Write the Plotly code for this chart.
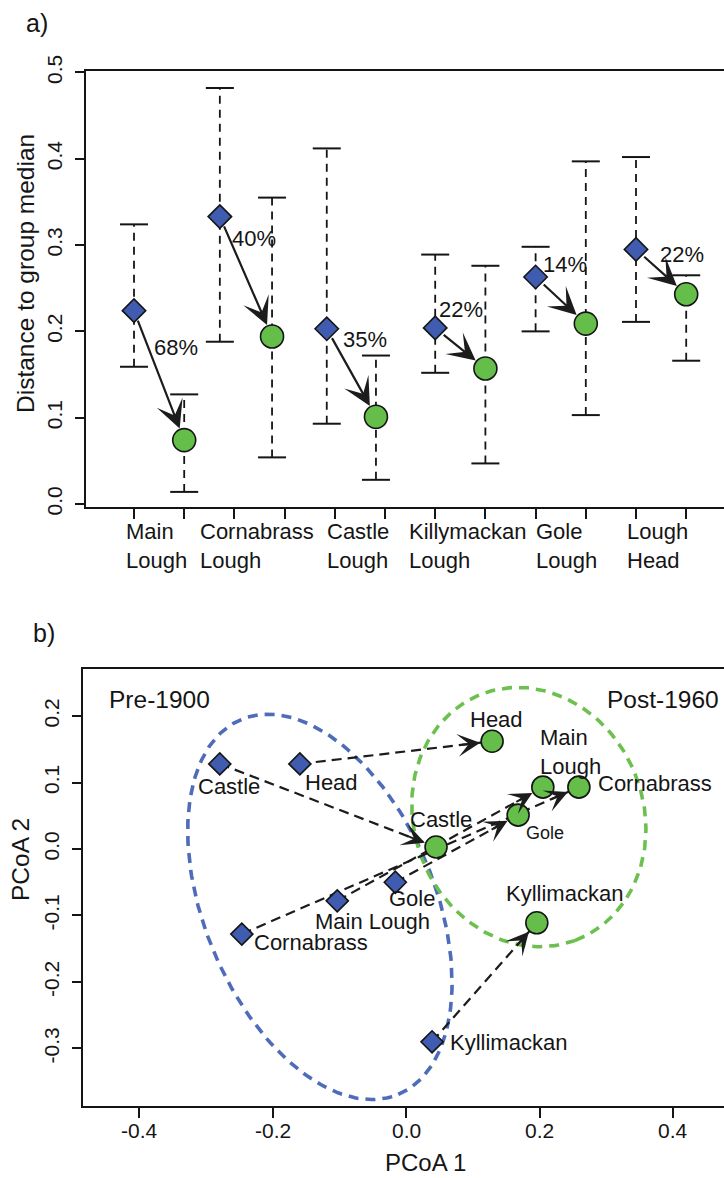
import numpy as np
import plotly.graph_objects as go

# ---------------- Panel a data ----------------
tick_labels_a = ["Main<br>Lough", "Cornabrass<br>Lough", "Castle<br>Lough",
                 "Killymackan<br>Lough", "Gole<br>Lough", "Lough<br>Head"]
pre_pos = [1, 2.71, 4.84, 7, 9, 11]
post_pos = [2, 3.75, 5.82, 8, 10, 12]
pre_median = [0.224, 0.333, 0.203, 0.204, 0.263, 0.295]
pre_upper = [0.324, 0.482, 0.412, 0.289, 0.298, 0.402]
pre_lower = [0.159, 0.188, 0.093, 0.152, 0.200, 0.211]
post_median = [0.074, 0.194, 0.101, 0.157, 0.209, 0.243]
post_upper = [0.127, 0.355, 0.172, 0.276, 0.397, 0.265]
post_lower = [0.014, 0.054, 0.028, 0.047, 0.103, 0.166]
pct_change = ["68%", "40%", "35%", "22%", "14%", "22%"]
yticks_a = [0.0, 0.1, 0.2, 0.3, 0.4, 0.5]
yticktext_a = ["0.0", "0.1", "0.2", "0.3", "0.4", "0.5"]

# ---------------- Panel b data ----------------
sites_b = ["Castle", "Head", "Main Lough", "Cornabrass", "Gole", "Kyllimackan"]
post_text_b = ["Castle", "Head", "Main<br>Lough", "Cornabrass", "Gole", "Kyllimackan"]
pre_x = [-0.279, -0.159, -0.103, -0.246, -0.016, 0.039]
pre_y = [0.128, 0.128, -0.078, -0.128, -0.050, -0.290]
post_x = [0.045, 0.129, 0.205, 0.259, 0.168, 0.196]
post_y = [0.003, 0.162, 0.093, 0.093, 0.051, -0.111]
xticks_b = [-0.4, -0.2, 0.0, 0.2, 0.4]
xticktext_b = ["-0.4", "-0.2", "0.0", "0.2", "0.4"]
yticks_b = [-0.3, -0.2, -0.1, 0.0, 0.1, 0.2]
yticktext_b = ["-0.3", "-0.2", "-0.1", "0.0", "0.1", "0.2"]
# group ellipses: centre x, centre y, semi-major, semi-minor, angle (deg)
ellipse_pre = (-0.129, -0.087, 0.3056, 0.1727, -67.4)
ellipse_post = (0.184, 0.048, 0.198, 0.172, -69.4)

# ---------------- layout / style constants ----------------
W, H = 724, 1178
FONT = "Liberation Sans, Arial, Helvetica, sans-serif"
BLUE = "#3F5CB0"
GREEN = "#64BE49"
EBLUE = "#4E6CBA"
EGREEN = "#6CC04E"
INK = "#151515"
ARROW = "#1c1c1c"

# plot-area boxes in pixels (left, right, top, bottom) and axis ranges
A_BOX = (86, 724, 71, 507)
A_XR = [0.0438, 12.753]
A_YR = [-0.0035, 0.5017]
B_BOX = (83, 724, 669, 1106)
B_XR = [-0.4839, 0.4764]
B_YR = [-0.3865, 0.2707]

# label placement (layout only)
tick_label_left_a = [0.80, 2.275, 4.80, 6.44, 8.97, 10.78]
pct_label_xy = [(1.837, 0.181), (3.40, 0.308), (5.60, 0.190),
                (7.51, 0.225), (9.59, 0.277), (11.92, 0.289)]
pre_label_shift = [(9, -23), (32, -19), (35, -21), (69, -8), (17, -16), (76, -1)]
post_label_shift = [(5, 28), (4, 22), (-5, 35), (76, 4), (27, -18), (28, 29)]
post_label_anchor = ["center", "center", "left", "center", "center", "center"]
post_label_size = [22, 22, 22, 22, 18, 22]


def xdom(box):
    return [box[0] / W, box[1] / W]


def ydom(box):
    return [1 - box[3] / H, 1 - box[2] / H]


def paper_text(px, py, text, size, angle=0):
    return dict(x=px / W, y=1 - py / H, xref="paper", yref="paper", text=text,
                xanchor="center", yanchor="middle", showarrow=False, textangle=angle,
                font=dict(size=size, color=INK, family=FONT))


fig = go.Figure()
ann = []

# ---- Panel a: dashed whiskers ----
wx, wy = [], []
for p, lo, hi in zip(pre_pos + post_pos, pre_lower + post_lower, pre_upper + post_upper):
    wx += [p, p, None]
    wy += [lo, hi, None]
fig.add_trace(go.Scatter(x=wx, y=wy, mode="lines", xaxis="x", yaxis="y",
                         line=dict(color=INK, width=1.8, dash="8px,6px"),
                         hoverinfo="skip", showlegend=False))
fig.add_trace(go.Scatter(x=pre_pos + post_pos + pre_pos + post_pos,
                         y=pre_lower + post_lower + pre_upper + post_upper,
                         mode="markers", xaxis="x", yaxis="y",
                         marker=dict(symbol="line-ew", size=20,
                                     line=dict(color=INK, width=2)),
                         hoverinfo="skip", showlegend=False))
fig.add_trace(go.Scatter(x=pre_pos, y=pre_median, mode="markers", xaxis="x", yaxis="y",
                         marker=dict(symbol="diamond", size=18, color=BLUE,
                                     line=dict(color=INK, width=1.6)),
                         name="Pre-1900", showlegend=False))
fig.add_trace(go.Scatter(x=post_pos, y=post_median, mode="markers", xaxis="x", yaxis="y",
                         marker=dict(symbol="circle", size=23, color=GREEN,
                                     line=dict(color=INK, width=1.6)),
                         name="Post-1960", showlegend=False))
# ---- Panel a: solid arrows (annotations, tail at the pre-1900 median) ----
for i in range(len(pre_pos)):
    ann.append(dict(x=post_pos[i], y=post_median[i], ax=pre_pos[i], ay=pre_median[i],
                    xref="x", yref="y", axref="x", ayref="y", text="", showarrow=True,
                    arrowhead=3, arrowwidth=2.2, arrowsize=2.1, arrowcolor=ARROW,
                    standoff=12.5, startstandoff=9))

# ---- Panel b: ellipses ----
t = np.linspace(0, 2 * np.pi, 241)
for (cx, cy, a, b, ang), col in [(ellipse_pre, EBLUE), (ellipse_post, EGREEN)]:
    th = np.deg2rad(ang)
    ex = cx + a * np.cos(t) * np.cos(th) - b * np.sin(t) * np.sin(th)
    ey = cy + a * np.cos(t) * np.sin(th) + b * np.sin(t) * np.cos(th)
    fig.add_trace(go.Scatter(x=ex, y=ey, mode="lines", xaxis="x2", yaxis="y2",
                             line=dict(color=col, width=3.6, dash="10px,7px"),
                             hoverinfo="skip", showlegend=False))
# ---- Panel b: dashed arrow shafts ----
for i in range(len(pre_x)):
    fig.add_trace(go.Scatter(x=[pre_x[i], post_x[i]], y=[pre_y[i], post_y[i]],
                             mode="lines", xaxis="x2", yaxis="y2",
                             line=dict(color=ARROW, width=2.2, dash="10px,6px"),
                             hoverinfo="skip", showlegend=False))
fig.add_trace(go.Scatter(x=pre_x, y=pre_y, mode="markers", xaxis="x2", yaxis="y2",
                         marker=dict(symbol="diamond", size=17, color=BLUE,
                                     line=dict(color=INK, width=1.6)),
                         text=sites_b, showlegend=False))
fig.add_trace(go.Scatter(x=post_x, y=post_y, mode="markers", xaxis="x2", yaxis="y2",
                         marker=dict(symbol="circle", size=22, color=GREEN,
                                     line=dict(color=INK, width=1.6)),
                         text=sites_b, showlegend=False))
# ---- Panel b: arrow heads (short annotation arrows along each shaft direction) ----
sx = (B_BOX[1] - B_BOX[0]) / (B_XR[1] - B_XR[0])
sy = (B_BOX[3] - B_BOX[2]) / (B_YR[1] - B_YR[0])
HEAD_STANDOFF, HEAD_TAIL = 12, 32
for i in range(len(pre_x)):
    dxp = (post_x[i] - pre_x[i]) * sx
    dyp = -(post_y[i] - pre_y[i]) * sy
    n = np.hypot(dxp, dyp)
    ann.append(dict(x=post_x[i], y=post_y[i], xref="x2", yref="y2",
                    ax=-dxp / n * HEAD_TAIL, ay=-dyp / n * HEAD_TAIL, text="",
                    showarrow=True, arrowhead=3, arrowwidth=2, arrowsize=1.9,
                    arrowcolor=ARROW, standoff=HEAD_STANDOFF))

# panel a tick labels
for lbl, xl in zip(tick_labels_a, tick_label_left_a):
    ann.append(dict(x=xl, y=1 - 546 / H, xref="x", yref="paper", text=lbl,
                    xanchor="left", yanchor="middle", align="left", showarrow=False,
                    font=dict(size=22, color=INK, family=FONT)))
# panel b x tick labels
for v, txt in zip(xticks_b, xticktext_b):
    ann.append(dict(x=v, y=1 - 1130 / H, xref="x2", yref="paper", text=txt,
                    xanchor="center", yanchor="middle", showarrow=False,
                    font=dict(size=21, color=INK, family=FONT)))
# percentages
for txt, (xx, yy) in zip(pct_change, pct_label_xy):
    ann.append(dict(x=xx, y=yy, xref="x", yref="y", text=txt, showarrow=False,
                    xanchor="center", yanchor="middle",
                    font=dict(size=22, color=INK, family=FONT)))
# panel b point labels
for i in range(len(pre_x)):
    dx, dy = pre_label_shift[i]
    ann.append(dict(x=pre_x[i], y=pre_y[i], xref="x2", yref="y2", text=sites_b[i],
                    xshift=dx, yshift=dy, showarrow=False,
                    xanchor="center", yanchor="middle",
                    font=dict(size=22, color=INK, family=FONT)))
    dx, dy = post_label_shift[i]
    ann.append(dict(x=post_x[i], y=post_y[i], xref="x2", yref="y2", text=post_text_b[i],
                    xshift=dx, yshift=dy, showarrow=False, xanchor=post_label_anchor[i],
                    yanchor="middle", align="left",
                    font=dict(size=post_label_size[i], color=INK, family=FONT)))
# group labels, axis titles, panel letters
ann.append(paper_text(159, 700, "Pre-1900", 24.5))
ann.append(paper_text(663, 699, "Post-1960", 24.5))
ann.append(paper_text(26, 274, "Distance to group median", 24.5, -90))
ann.append(paper_text(20, 860, "PCoA 2", 24.5, -90))
ann.append(paper_text(425, 1162, "PCoA 1", 24))
ann.append(paper_text(37, 23, "a)", 25))
ann.append(paper_text(44, 633, "b)", 25))

axis_common = dict(showline=True, linecolor=INK, linewidth=2.2, ticks="outside",
                   tickcolor=INK, tickwidth=2, showgrid=False, zeroline=False,
                   automargin=False,
                   tickfont=dict(size=21, color=INK, family=FONT), fixedrange=True)

fig.update_layout(
    width=W, height=H, margin=dict(l=0, r=0, t=0, b=0, pad=0, autoexpand=False),
    paper_bgcolor="white", plot_bgcolor="white", showlegend=False,
    font=dict(family=FONT, color=INK),
    xaxis=dict(domain=xdom(A_BOX), range=A_XR, anchor="y",
               tickmode="array", tickvals=list(range(1, 13)), showticklabels=False,
               ticklen=10, mirror=True, **axis_common),
    yaxis=dict(domain=ydom(A_BOX), range=A_YR, anchor="x",
               tickmode="array", tickvals=yticks_a, ticktext=yticktext_a,
               tickangle=-90, ticklen=9, ticklabelstandoff=5, **axis_common),
    xaxis2=dict(domain=xdom(B_BOX), range=B_XR, anchor="y2",
                tickmode="array", tickvals=xticks_b, showticklabels=False,
                ticklen=10, mirror=True, **axis_common),
    yaxis2=dict(domain=ydom(B_BOX), range=B_YR, anchor="x2",
                tickmode="array", tickvals=yticks_b, ticktext=yticktext_b,
                tickangle=-90, ticklen=9, ticklabelstandoff=5, **axis_common),
    annotations=ann,
)

fig.write_html("out.html")
